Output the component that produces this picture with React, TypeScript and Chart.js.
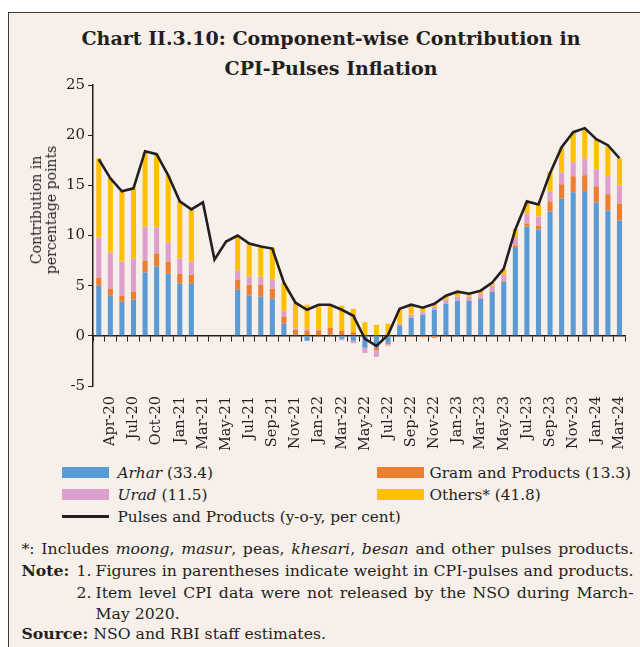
import React, { useEffect, useRef } from "react";
import { Chart, registerables } from "chart.js";

Chart.register(...registerables);

const categories = [
  "Mar-20", "Apr-20", "Jun-20", "Jul-20", "Sep-20", "Oct-20", "Dec-20", "Jan-21", "Feb-21", "Mar-21",
  "Apr-21", "May-21", "Jun-21", "Jul-21", "Aug-21", "Sep-21", "Oct-21", "Nov-21", "Dec-21", "Jan-22",
  "Feb-22", "Mar-22", "Apr-22", "May-22", "Jun-22", "Jul-22", "Aug-22", "Sep-22", "Oct-22", "Nov-22",
  "Dec-22", "Jan-23", "Feb-23", "Mar-23", "Apr-23", "May-23", "Jun-23", "Jul-23", "Aug-23", "Sep-23",
  "Oct-23", "Nov-23", "Dec-23", "Jan-24", "Feb-24", "Mar-24",
];

const arhar = [
  5.0, 4.0, 3.4, 3.6, 6.3, 6.9, 6.2, 5.2, 5.2, null,
  null, null, 4.6, 4.0, 3.9, 3.7, 1.2, 0.1, -0.5, 0.05,
  0.1, -0.3, -0.5, -1.2, -1.2, -0.7, 1.0, 1.8, 2.1, 2.6,
  3.2, 3.5, 3.5, 3.7, 4.4, 5.4, 8.75, 10.9, 10.6, 12.4,
  13.7, 14.3, 14.4, 13.3, 12.5, 11.5,
];

const gram = [
  0.8, 0.7, 0.6, 0.8, 1.2, 1.3, 1.2, 1.0, 0.9, null,
  null, null, 1.0, 1.1, 1.2, 1.0, 0.7, 0.5, 0.5, 0.5,
  0.7, 0.5, 0.35, 0.05, -0.2, -0.15, 0.05, -0.1, -0.15, -0.2,
  -0.1, 0.0, 0.05, 0.05, 0.05, 0.05, 0.25, 0.3, 0.4, 1.0,
  1.4, 1.6, 1.6, 1.6, 1.6, 1.7,
];

const urad = [
  4.0, 3.6, 3.4, 3.3, 3.4, 2.6, 1.9, 1.5, 1.3, null,
  null, null, 0.9, 0.8, 0.8, 0.9, 0.6, 0.15, 0.2, 0.1,
  0.05, -0.15, -0.25, -0.5, -0.7, -0.15, 0.15, 0.3, 0.25, 0.3,
  0.4, 0.4, 0.35, 0.45, 0.55, 0.65, 0.85, 1.0, 0.9, 1.0,
  1.2, 1.4, 1.7, 1.7, 1.8, 1.8,
];

const others = [
  7.9, 7.4, 7.0, 7.0, 7.4, 7.3, 6.7, 5.7, 5.2, null,
  null, null, 3.4, 3.3, 2.9, 3.2, 2.8, 2.5, 2.4, 2.4,
  2.2, 2.5, 2.35, 1.3, 1.1, 1.2, 1.4, 1.1, 0.5, 0.3,
  0.4, 0.5, 0.2, 0.3, 0.25, 0.5, 0.8, 1.1, 1.2, 1.9,
  2.5, 3.0, 3.0, 3.0, 3.0, 2.7,
];

const pulses = [
  17.6, 15.7, 14.4, 14.7, 18.4, 18.1, 16.0, 13.4, 12.6, 13.3,
  7.6, 9.4, 10.0, 9.2, 8.9, 8.7, 5.3, 3.3, 2.6, 3.1,
  3.1, 2.6, 2.0, -0.3, -1.0, 0.1, 2.7, 3.1, 2.8, 3.2,
  4.0, 4.4, 4.2, 4.5, 5.3, 6.7, 10.6, 13.4, 13.1, 16.2,
  18.8, 20.3, 20.7, 19.6, 19.0, 17.7,
];

const yTicks = [-5, 0, 5, 10, 15, 20, 25];

const seriesNames = ["Arhar", "Gram and Products", "Urad", "Others*"];
const seriesWeights = ["(33.4)", "(13.3)", "(11.5)", "(41.8)"];
const seriesColors = ["#5B9BD5", "#ED7D31", "#DDA0CC", "#FFC000"];
const seriesItalic = [true, false, true, false];
const lineName = "Pulses and Products (y-o-y, per cent)";
const lineColor = "#231F20";

const FONT = "'DejaVu Serif', serif";
const TEXT = "#231F20";
const BG = "#F7F0EA";

export default function App() {
  const ref = useRef<HTMLCanvasElement>(null);

  useEffect(() => {
    if (!ref.current) return;
    const barSeries = [arhar, gram, urad, others];
    const chart = new Chart(ref.current, {
      type: "bar",
      data: {
        labels: categories,
        datasets: [
          ...barSeries.map((d, i) => ({
            type: "bar" as const,
            label: seriesNames[i],
            data: d,
            backgroundColor: seriesColors[i],
            stack: "bars",
            xAxisID: "x",
            yAxisID: "y",
            order: 2,
            categoryPercentage: 1,
            barPercentage: 0.44,
          })),
          {
            type: "line" as const,
            label: lineName,
            data: pulses,
            borderColor: lineColor,
            backgroundColor: lineColor,
            borderWidth: 2.6,
            pointRadius: 0,
            tension: 0,
            stack: "line",
            xAxisID: "x",
            yAxisID: "y",
            order: 0,
          },
        ],
      },
      options: {
        responsive: false,
        devicePixelRatio: 1,
        animation: false,
        layout: { padding: { left: 54, right: 12, top: 12, bottom: 0 } },
        plugins: {
          legend: { display: false },
          tooltip: { enabled: false },
          title: { display: false },
        },
        scales: {
          x: {
            type: "category",
            axis: "x",
            position: "bottom",
            stacked: true,
            offset: true,
            grid: { display: false },
            border: { display: false },
            ticks: {
              autoSkip: false,
              minRotation: 90,
              maxRotation: 90,
              padding: 2,
              color: TEXT,
              font: { family: FONT, size: 14.5 },
              callback: (_v: any, i: number) => (i % 2 === 1 ? categories[i] : ""),
            },
            afterFit: (s: any) => {
              s.height = 70;
            },
          },
          x2: {
            type: "category",
            axis: "x",
            position: { y: 0 },
            offset: true,
            grid: {
              drawOnChartArea: false,
              offset: true,
              tickLength: 5,
              color: TEXT,
              lineWidth: 1,
            },
            border: { display: true, color: TEXT, width: 1.5 },
            ticks: { display: false },
          },
          y: {
            stacked: true,
            min: yTicks[0],
            max: yTicks[yTicks.length - 1],
            afterBuildTicks: (s: any) => {
              s.ticks = yTicks.map((v) => ({ value: v }));
            },
            grid: {
              drawOnChartArea: false,
              tickLength: 5,
              color: TEXT,
              lineWidth: 1,
            },
            border: { display: true, color: TEXT, width: 1.5 },
            ticks: {
              padding: 3,
              color: TEXT,
              font: { family: FONT, size: 15 },
            },
            afterFit: (s: any) => {
              s.width = 30;
            },
          },
        },
      },
    } as any);
    return () => chart.destroy();
  }, []);

  const abs = (top: number, left: number, extra: React.CSSProperties = {}): React.CSSProperties => ({
    position: "absolute",
    top,
    left,
    whiteSpace: "nowrap",
    ...extra,
  });

  // page -> content coordinates: content origin at page (9.5, 13.5)
  const OX = 9.5;
  const OY = 13.5;
  const LH = 20;
  const rowTop = (cy: number) => cy - OY - LH / 2;
  const NF = 15.7;
  const noteStyle = { fontSize: NF, lineHeight: LH + "px" };
  const justify = (w: number): React.CSSProperties => ({
    fontSize: NF,
    lineHeight: LH + "px",
    width: w,
    textAlign: "justify",
    textAlignLast: "justify",
    whiteSpace: "normal",
  });

  const legendItems = [0, 1, 2, 3].map((i) => ({
    col: i % 2,
    row: Math.floor(i / 2),
    i,
  }));
  const colSwatchX = [62, 377];
  const colTextX = [118, 430];
  const rowY = [473, 495, 517];
  const LF = 15.3;

  return (
    <div
      style={{
        position: "fixed",
        top: 12,
        left: 8,
        width: 632,
        height: 635,
        boxSizing: "border-box",
        borderLeft: "1.5px solid #3a3a3a",
        borderTop: "1.5px solid #3a3a3a",
        background: BG,
        overflow: "hidden",
        fontFamily: FONT,
        color: TEXT,
      }}
    >
      <div
        style={{
          position: "absolute",
          top: 38 - OY - 15,
          left: 0,
          width: 630,
          paddingLeft: 14,
          boxSizing: "border-box",
          textAlign: "center",
          fontWeight: "bold",
          fontSize: 19,
          lineHeight: "30px",
        }}
      >
        Chart II.3.10: Component-wise Contribution in
        <br />
        CPI-Pulses Inflation
      </div>

      <canvas
        ref={ref}
        width={630}
        height={383}
        style={{ position: "absolute", top: 60, left: 0, width: 630, height: 383 }}
      />

      <div
        style={{
          position: "absolute",
          left: 44 - OX,
          top: 210 - OY,
          transform: "translate(-50%, -50%) rotate(-90deg)",
          textAlign: "center",
          fontSize: 14,
          lineHeight: "15px",
          whiteSpace: "nowrap",
        }}
      >
        Contribution in
        <br />
        percentage points
      </div>

      {legendItems.map(({ col, row, i }) => (
        <React.Fragment key={i}>
          <div
            style={abs(rowY[row] - OY - 5.5, colSwatchX[col] - OX, {
              width: 47,
              height: 11,
              background: seriesColors[i],
            })}
          />
          <div style={abs(rowTop(rowY[row]), colTextX[col] - OX, { fontSize: LF, lineHeight: LH + "px" })}>
            {seriesItalic[i] ? <i>{seriesNames[i]}</i> : seriesNames[i]} {seriesWeights[i]}
          </div>
        </React.Fragment>
      ))}
      <div
        style={abs(rowY[2] - OY - 1.25, colSwatchX[0] - OX, {
          width: 47,
          height: 2.5,
          background: lineColor,
        })}
      />
      <div style={abs(rowTop(rowY[2]), colTextX[0] - OX, { fontSize: LF, lineHeight: LH + "px" })}>
        {lineName}
      </div>

      <div style={abs(rowTop(549), 22 - OX, justify(612))}>
        *: Includes <i>moong</i>, <i>masur</i>, peas, <i>khesari</i>, <i>besan</i> and other pulses products.
      </div>
      <div style={abs(rowTop(571), 22 - OX, noteStyle)}>
        <b>Note:</b>
      </div>
      <div style={abs(rowTop(571), 77 - OX, noteStyle)}>1.</div>
      <div style={abs(rowTop(571), 96 - OX, justify(538))}>
        Figures in parentheses indicate weight in CPI-pulses and products.
      </div>
      <div style={abs(rowTop(593), 77 - OX, noteStyle)}>2.</div>
      <div style={abs(rowTop(593), 96 - OX, justify(538))}>
        Item level CPI data were not released by the NSO during March-
      </div>
      <div style={abs(rowTop(614), 96 - OX, noteStyle)}>May 2020.</div>
      <div style={abs(rowTop(634), 22 - OX, noteStyle)}>
        <b>Source:</b> NSO and RBI staff estimates.
      </div>
    </div>
  );
}
